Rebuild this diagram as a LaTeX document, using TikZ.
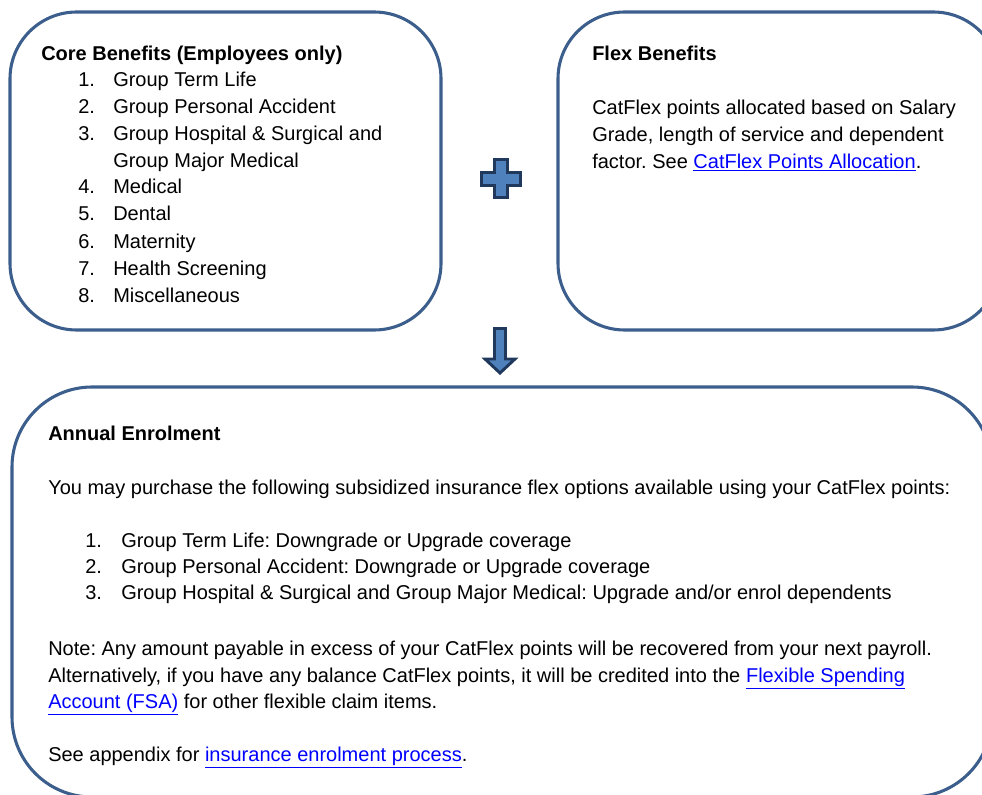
\documentclass[tikz,border=0pt]{standalone}
\usepackage{fontspec}
\setmainfont{Liberation Sans}
\frenchspacing
\usetikzlibrary{positioning}
\definecolor{frameblue}{RGB}{59,94,140}
\definecolor{symfill}{RGB}{79,129,189}
\definecolor{symline}{RGB}{31,56,92}
\definecolor{linkblue}{RGB}{0,0,255}
\newcommand{\lnk}[1]{\textcolor{linkblue}{\underline{#1}}}
\tikzset{
  panel/.style={draw=frameblue, line width=2.3pt},
  txt/.style={anchor=base west, inner sep=0pt, font=\fontsize{15}{18}\selectfont},
  head/.style={txt, font=\fontsize{15}{18}\selectfont\bfseries},
  symbol/.style={fill=symfill, draw=symline, line width=2.2pt, line join=miter},
}
\begin{document}
\begin{tikzpicture}[x=0.75pt, y=-0.75pt]
\useasboundingbox (0,0) rectangle (982,795);
\clip (0,0) rectangle (982,795);

% panels
\draw[panel, rounded corners=50] (10,12) rectangle (441,330);
\draw[panel, rounded corners=50] (558,12) rectangle (1000,330);
\draw[panel, rounded corners=60] (12,387) rectangle (992,797);

% plus sign between the upper panels
\draw[symbol] (494.5,159.5) -- (507.5,159.5) -- (507.5,172.5) -- (520.5,172.5)
  -- (520.5,185.5) -- (507.5,185.5) -- (507.5,197.5) -- (494.5,197.5)
  -- (494.5,185.5) -- (481.5,185.5) -- (481.5,172.5) -- (494.5,172.5) -- cycle;

% down arrow
\draw[symbol] (494.5,328.5) -- (505.5,328.5) -- (505.5,359) -- (515,359)
  -- (500,373) -- (485,359) -- (494.5,359) -- cycle;

% core benefits
\node[head] (coreT) at (41,61) {Core Benefits (Employees only)};
\foreach \n/\y/\t in {1/87/Group Term Life, 2/113.5/Group Personal Accident,
  3/140.5/Group Hospital \& Surgical and, 4/194/Medical, 5/221/Dental,
  6/248/Maternity, 7/275/Health Screening, 8/302/Miscellaneous}{
  \node[txt] (coreN\n) at (78,\y) {\n.};
  \node[txt] (coreI\n) at (113,\y) {\t};
}
\node[txt] (coreI3b) at (113,167.3) {Group Major Medical};

% flex benefits
\node[head] (flexT) at (592,61) {Flex Benefits};
\node[txt] (flex1) at (592,115) {CatFlex points allocated based on Salary};
\node[txt] (flex2) at (592,141.7) {Grade, length of service and dependent};
\node[txt] (flex3) at (592,168.3) {factor. See \lnk{CatFlex Points Allocation}.};

% annual enrolment
\node[head] (annT) at (48,440) {Annual Enrolment};
\node[txt] (ann1) at (48,494) {You may purchase the following subsidized insurance flex options available using your CatFlex points:};
\node[txt] (annN1) at (85,547) {1.};
\node[txt] (annI1) at (121,547) {Group Term Life: Downgrade or Upgrade coverage};
\node[txt] (annN2) at (85,573) {2.};
\node[txt] (annI2) at (121,573) {Group Personal Accident: Downgrade or Upgrade coverage};
\node[txt] (annN3) at (85,599.5) {3.};
\node[txt] (annI3) at (121,599.5) {Group Hospital \& Surgical and Group Major Medical: Upgrade and/or enrol dependents};
\node[txt] (note1) at (48,655.5) {Note: Any amount payable in excess of your CatFlex points will be recovered from your next payroll.};
\node[txt] (note2) at (48,682) {Alternatively, if you have any balance CatFlex points, it will be credited into the \lnk{Flexible Spending}};
\node[txt] (note3) at (48,708.5) {\lnk{Account (FSA)} for other flexible claim items.};
\node[txt] (seeApp) at (48,761) {See appendix for \lnk{insurance enrolment process}.};
\end{tikzpicture}
\end{document}
